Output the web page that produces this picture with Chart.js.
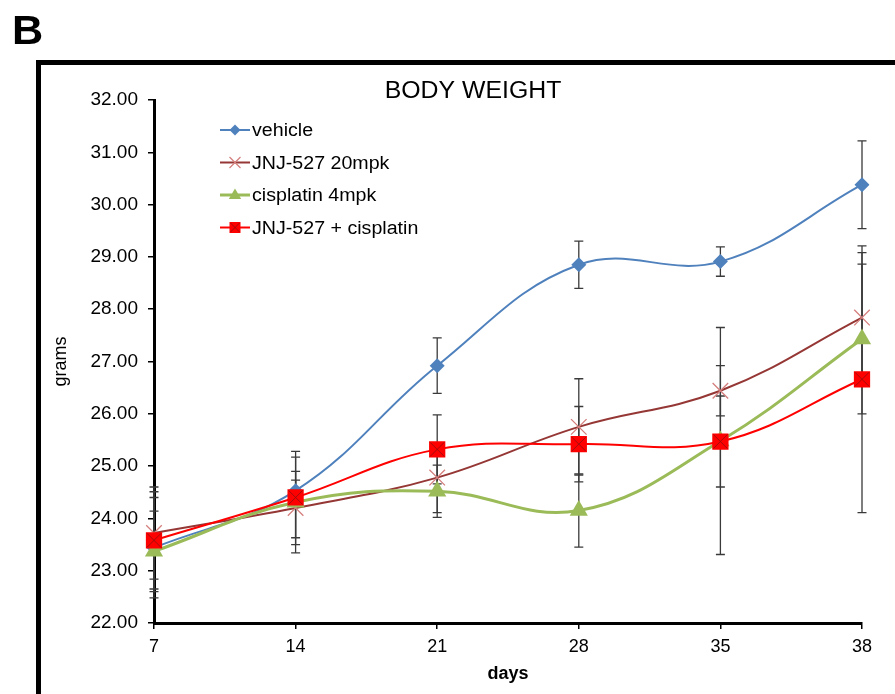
<!DOCTYPE html>
<html>
<head>
<meta charset="utf-8">
<title>Body weight</title>
<script src="https://cdn.jsdelivr.net/npm/chart.js@4.4.0/dist/chart.umd.min.js"></script>
<style>
  html, body { margin: 0; padding: 0; background: #fff; }
  #grafico { display: block; }
</style>
</head>
<body>
<canvas id="grafico" width="895" height="694"></canvas>
<script>
// Datos (gramos)
const dias = ['7', '14', '21', '28', '35', '38'];
const ticksY = [22, 23, 24, 25, 26, 27, 28, 29, 30, 31, 32];

const vehicle = [23.44, 24.53, 26.92, 28.85, 28.91, 30.38];
const vehicleErr = [0.96, 0.20, 0.53, 0.45, 0.28, 0.84];

const jnj = [23.72, 24.20, 24.78, 25.75, 26.44, 27.84];
const jnjErr = [0.88, 0.70, 0.67, 0.92, 0.48, 1.24];

const cisplatin = [23.37, 24.31, 24.52, 24.15, 25.48, 27.43];
const cisplatinErr = [0.77, 0.97, 0.50, 0.70, 2.17, 1.43];

const combo = [23.58, 24.40, 25.32, 25.42, 25.47, 26.66];
const comboErr = [0.93, 0.77, 0.66, 0.72, 0.87, 2.55];

const fuente = '"Liberation Sans", Arial, sans-serif';

// Series (colores tipo Excel)
const series = [
    { label: 'vehicle', data: vehicle, err: vehicleErr, color: '#4F81BD', marker: '#4F81BD', estilo: 'rectRot', radio: 7.5, ancho: 2, orden: 4 },
    { label: 'JNJ-527 20mpk', data: jnj, err: jnjErr, color: '#953735', marker: '#D47F7D', estilo: 'crossRot', radio: 11, ancho: 2, orden: 3 },
    { label: 'cisplatin 4mpk', data: cisplatin, err: cisplatinErr, color: '#9BBB59', marker: '#9BBB59', estilo: 'triangle', radio: 10.5, ancho: 3, orden: 2 },
    { label: 'JNJ-527 + cisplatin', data: combo, err: comboErr, color: '#FF0000', marker: '#FF0000', estilo: 'rect', radio: 11.5, ancho: 2, orden: 1 }
];

function textoEstirado(ctx, txt, x, y, font, escala, align) {
    ctx.save();
    ctx.font = font;
    ctx.fillStyle = '#000';
    ctx.textAlign = align || 'left';
    ctx.textBaseline = 'alphabetic';
    ctx.translate(x, y);
    ctx.scale(escala, 1);
    ctx.fillText(txt, 0, 0);
    ctx.restore();
}

// Marcadores pequeños para la leyenda
function dibujarMarcador(ctx, estilo, x, y, r, color) {
    ctx.save();
    ctx.fillStyle = color;
    ctx.strokeStyle = color;
    ctx.beginPath();
    if (estilo === 'rectRot') {
        ctx.moveTo(x, y - r); ctx.lineTo(x + r, y); ctx.lineTo(x, y + r); ctx.lineTo(x - r, y);
        ctx.closePath(); ctx.fill();
    } else if (estilo === 'crossRot') {
        ctx.lineWidth = 1.2;
        ctx.moveTo(x - r, y - r); ctx.lineTo(x + r, y + r);
        ctx.moveTo(x + r, y - r); ctx.lineTo(x - r, y + r);
        ctx.stroke();
    } else if (estilo === 'triangle') {
        ctx.moveTo(x, y - r); ctx.lineTo(x + r * 0.95, y + r * 0.6); ctx.lineTo(x - r * 0.95, y + r * 0.6);
        ctx.closePath(); ctx.fill();
    } else {
        ctx.rect(x - r, y - r, 2 * r, 2 * r); ctx.fill();
        ctx.beginPath();
        ctx.strokeStyle = '#8A1010';
        ctx.lineWidth = 0.8;
        ctx.moveTo(x - r + 1, y - r + 1); ctx.lineTo(x + r - 1, y + r - 1);
        ctx.moveTo(x + r - 1, y - r + 1); ctx.lineTo(x - r + 1, y + r - 1);
        ctx.stroke();
    }
    ctx.restore();
}

// Fondo, marco, letra "B" y titulo
const fondoYMarco = {
    id: 'fondoYMarco',
    beforeDraw(chart) {
        const ctx = chart.ctx;
        ctx.save();
        ctx.fillStyle = '#fff';
        ctx.fillRect(0, 0, chart.width, chart.height);
        ctx.strokeStyle = '#000';
        ctx.lineWidth = 5;
        ctx.strokeRect(38.5, 62.5, 2000, 2000);
        ctx.restore();
        textoEstirado(ctx, 'B', 12, 44, 'bold 40px ' + fuente, 1.08, 'left');
        textoEstirado(ctx, 'BODY WEIGHT', 473, 98, '23px ' + fuente, 1.08, 'center');
    }
};

// Barras de error con las escalas del grafico
const barrasError = {
    id: 'barrasError',
    beforeDatasetsDraw(chart) {
        const ctx = chart.ctx;
        const x = chart.scales.x;
        const y = chart.scales.y;
        ctx.save();
        ctx.strokeStyle = '#3A3A3A';
        ctx.lineWidth = 1.3;
        series.forEach(s => {
            s.data.forEach((v, i) => {
                const px = x.getPixelForValue(i);
                const arriba = y.getPixelForValue(v + s.err[i]);
                const abajo = y.getPixelForValue(v - s.err[i]);
                ctx.beginPath();
                ctx.moveTo(px, arriba); ctx.lineTo(px, abajo);
                ctx.moveTo(px - 4.5, arriba); ctx.lineTo(px + 4.5, arriba);
                ctx.moveTo(px - 4.5, abajo); ctx.lineTo(px + 4.5, abajo);
                ctx.stroke();
            });
        });
        ctx.restore();
    },
    afterDatasetsDraw(chart) {
        // la "x" oscura dentro de los cuadrados rojos
        const ctx = chart.ctx;
        const meta = chart.getDatasetMeta(3);
        ctx.save();
        ctx.strokeStyle = '#8A1010';
        ctx.lineWidth = 0.8;
        meta.data.forEach(p => {
            const r = 7;
            ctx.beginPath();
            ctx.moveTo(p.x - r, p.y - r); ctx.lineTo(p.x + r, p.y + r);
            ctx.moveTo(p.x + r, p.y - r); ctx.lineTo(p.x - r, p.y + r);
            ctx.stroke();
        });
        ctx.restore();
    }
};

// Leyenda dentro del area del grafico
const leyenda = {
    id: 'leyenda',
    afterDraw(chart) {
        const ctx = chart.ctx;
        const bases = [136, 168.5, 201, 233.5];
        const radios = [5.5, 5.5, 6.5, 5.5];
        series.forEach((s, i) => {
            const cy = bases[i] - 6;
            ctx.save();
            ctx.strokeStyle = s.color;
            ctx.lineWidth = s.ancho;
            ctx.beginPath();
            ctx.moveTo(220, cy); ctx.lineTo(250, cy);
            ctx.stroke();
            ctx.restore();
            dibujarMarcador(ctx, s.estilo, 235, cy, radios[i], s.marker);
            textoEstirado(ctx, s.label, 252, bases[i], '18px ' + fuente, 1.09, 'left');
        });
    }
};

const ctx = document.getElementById('grafico').getContext('2d');

const chart = new Chart(ctx, {
    type: 'line',
    data: {
        labels: dias,
        datasets: series.map(s => ({
            label: s.label,
            data: s.data,
            borderColor: s.color,
            borderWidth: s.ancho,
            backgroundColor: s.marker,
            pointStyle: s.estilo,
            pointRadius: s.radio,
            pointBorderColor: s.marker,
            pointBackgroundColor: s.marker,
            pointBorderWidth: s.estilo === 'crossRot' ? 1.3 : 0,
            tension: 0.4,
            fill: false,
            order: s.orden
        }))
    },
    options: {
        responsive: false,
        animation: false,
        devicePixelRatio: 1,
        layout: { padding: { left: 0, top: 100, right: 33, bottom: 0 } },
        plugins: {
            legend: { display: false },
            title: { display: false },
            tooltip: { enabled: false }
        },
        scales: {
            x: {
                type: 'category',
                offset: false,
                grid: { drawOnChartArea: false, drawTicks: true, tickLength: 6, color: '#000', lineWidth: 1.5 },
                border: { display: true, color: '#000', width: 3 },
                ticks: { color: '#000', font: { family: fuente, size: 18 }, padding: 7, maxRotation: 0 },
                title: { display: true, text: 'days', color: '#000', font: { family: fuente, size: 18, weight: 'bold' }, padding: { top: 0, bottom: 9 } },
                afterFit(scale) { scale.height = 71; }
            },
            y: {
                min: 22,
                max: 32,
                afterBuildTicks(scale) { scale.ticks = ticksY.map(v => ({ value: v })); },
                grid: { drawOnChartArea: false, drawTicks: true, tickLength: 6, color: '#000', lineWidth: 1.5 },
                border: { display: true, color: '#000', width: 3 },
                ticks: { color: '#000', font: { family: fuente, size: 19 }, padding: 10, callback: v => Number(v).toFixed(2) },
                title: { display: true, text: 'grams', color: '#000', font: { family: fuente, size: 18 }, padding: { top: 50, bottom: 0 } },
                afterFit(scale) { scale.width = 154; }
            }
        }
    },
    plugins: [fondoYMarco, barrasError, leyenda]
});
</script>
</body>
</html>
